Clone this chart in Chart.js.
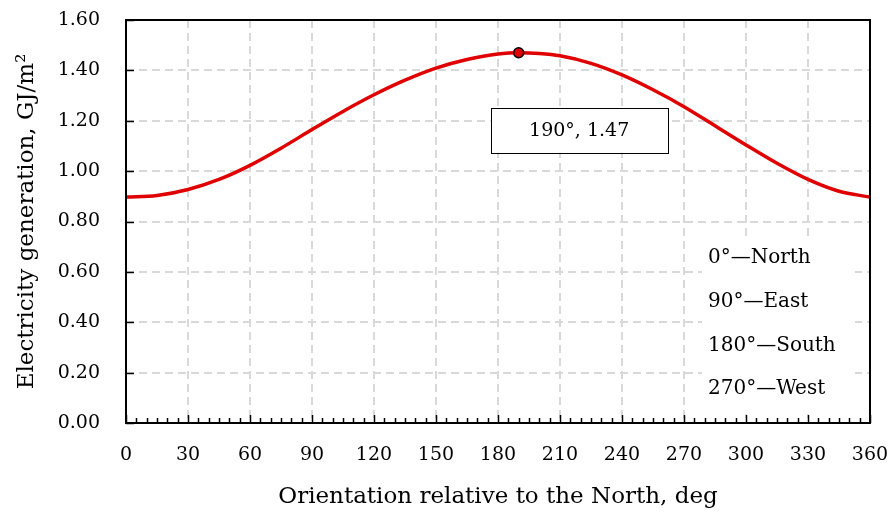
<!DOCTYPE html>
<html>
<head>
<meta charset="utf-8">
<script src="https://cdn.jsdelivr.net/npm/chart.js@4.4.1/dist/chart.umd.min.js"></script>
<style>
    html, body { margin: 0; padding: 0; background: #fff; }
    #wrap { width: 893px; height: 513px; }
</style>
</head>
<body>
<div id="wrap"><canvas id="gen-chart"></canvas></div>
<script>
// Data
const angles = [0, 15, 30, 45, 60, 75, 90, 105, 120, 135, 150, 165, 180, 190, 200, 210, 225, 240, 255, 270, 285, 300, 315, 330, 345, 360];
const generation = [0.897, 0.903, 0.927, 0.967, 1.023, 1.091, 1.165, 1.237, 1.303, 1.361, 1.409, 1.443, 1.465, 1.470, 1.467, 1.458, 1.428, 1.382, 1.323, 1.256, 1.180, 1.104, 1.031, 0.967, 0.920, 0.897];
const peakAngle = [190];
const peakValue = [1.47];
const peakLabel = '190°, 1.47';
const directionNotes = ['0°—North', '90°—East', '180°—South', '270°—West'];

const FONT = 'DejaVu Serif';
const ctx = document.getElementById('gen-chart').getContext('2d');

const linePoints = angles.map((a, i) => ({ x: a, y: generation[i] }));
const peakPoints = peakAngle.map((a, i) => ({ x: a, y: peakValue[i] }));

// Frame, inside ticks, legend box, peak label
const decorPlugin = {
    id: 'decor',
    beforeDatasetsDraw(chart) {
        const { ctx, chartArea: ca } = chart;
        // white panel behind the direction notes
        ctx.save();
        ctx.fillStyle = '#ffffff';
        ctx.fillRect(ca.right - 168, ca.bottom - 185, 153, 176);
        ctx.restore();
    },
    afterDatasetsDraw(chart) {
        const { ctx, chartArea: ca, scales } = chart;
        const xs = scales.x, ys = scales.y;
        ctx.save();

        // minor and major ticks on x axis (pointing in)
        ctx.strokeStyle = '#000';
        ctx.lineWidth = 1.5;
        for (let v = 0; v <= 360; v += 5) {
            const px = Math.round(xs.getPixelForValue(v)) + 0.5;
            const len = v % 30 === 0 ? 8 : 5;
            ctx.beginPath();
            ctx.moveTo(px, ca.bottom);
            ctx.lineTo(px, ca.bottom - len);
            ctx.stroke();
        }
        // y ticks (pointing in)
        for (let v = 0; v <= 1.6001; v += 0.2) {
            const py = Math.round(ys.getPixelForValue(v)) + 0.5;
            ctx.beginPath();
            ctx.moveTo(ca.left, py);
            ctx.lineTo(ca.left + 8, py);
            ctx.stroke();
        }

        // plot frame
        ctx.lineWidth = 2;
        ctx.strokeRect(ca.left, ca.top, ca.right - ca.left, ca.bottom - ca.top);

        // direction notes
        ctx.fillStyle = '#000';
        ctx.font = '20px "' + FONT + '"';
        ctx.textAlign = 'left';
        ctx.textBaseline = 'middle';
        directionNotes.forEach((t, i) => {
            ctx.fillText(t, ca.right - 162, ca.bottom - 165 + i * 43.7);
        });

        // peak label box
        const px = xs.getPixelForValue(peakAngle[0]);
        const py = ys.getPixelForValue(peakValue[0]);
        const bx = px - 28, by = py + 55, bw = 177, bh = 45;
        ctx.fillStyle = '#ffffff';
        ctx.fillRect(bx, by, bw, bh);
        ctx.lineWidth = 1;
        ctx.strokeStyle = '#000';
        ctx.strokeRect(Math.round(bx) + 0.5, Math.round(by) + 0.5, bw, bh);
        ctx.fillStyle = '#000';
        ctx.font = '19px "' + FONT + '"';
        ctx.textAlign = 'center';
        ctx.fillText(peakLabel, bx + bw / 2, by + bh / 2 + 1);

        ctx.restore();
    }
};

const genChart = new Chart(ctx, {
    type: 'line',
    data: {
        datasets: [{
            label: 'Peak',
            data: peakPoints,
            showLine: false,
            pointRadius: 5,
            pointBackgroundColor: '#e00000',
            pointBorderColor: '#000',
            pointBorderWidth: 1.5,
            order: 0
        }, {
            label: 'Electricity generation',
            data: linePoints,
            borderColor: '#e00000',
            borderWidth: 3.5,
            pointRadius: 0,
            fill: false,
            cubicInterpolationMode: 'monotone',
            order: 1
        }]
    },
    options: {
        responsive: true,
        maintainAspectRatio: false,
        animation: false,
        layout: {
            padding: { top: 20, right: 23, left: 0, bottom: 0 }
        },
        plugins: {
            legend: { display: false },
            tooltip: { enabled: false }
        },
        scales: {
            x: {
                type: 'linear',
                min: 0,
                max: 360,
                afterFit: (scale) => {
                    scale.height = 90;
                    scale.paddingLeft = 0;
                    scale.paddingRight = 0;
                },
                ticks: {
                    stepSize: 30,
                    autoSkip: false,
                    maxRotation: 0,
                    padding: 21,
                    color: '#000',
                    font: { family: FONT, size: 19 }
                },
                grid: {
                    drawTicks: false,
                    color: (c) => (c.tick && (c.tick.value === 0 || c.tick.value === 360)) ? 'rgba(0,0,0,0)' : '#d9d9d9',
                    lineWidth: 2
                },
                border: { display: false, dash: [8, 5] },
                title: {
                    display: true,
                    text: 'Orientation relative to the North, deg',
                    color: '#000',
                    font: { family: FONT, size: 23 },
                    padding: { top: 0, bottom: 2 }
                }
            },
            y: {
                min: 0,
                max: 1.6,
                afterFit: (scale) => {
                    scale.width = 126;
                    scale.paddingTop = 0;
                    scale.paddingBottom = 0;
                },
                ticks: {
                    stepSize: 0.2,
                    padding: 26,
                    color: '#000',
                    font: { family: FONT, size: 19 },
                    callback: function(value) {
                        return value.toFixed(2);
                    }
                },
                grid: {
                    drawTicks: false,
                    color: (c) => (c.tick && (c.tick.value === 0 || c.tick.value >= 1.6)) ? 'rgba(0,0,0,0)' : '#d9d9d9',
                    lineWidth: 2
                },
                border: { display: false, dash: [8, 5] },
                title: {
                    display: true,
                    text: 'Electricity generation, GJ/m²',
                    color: '#000',
                    font: { family: FONT, size: 23 },
                    padding: { top: 13, bottom: 0 }
                }
            }
        }
    },
    plugins: [decorPlugin]
});
</script>
</body>
</html>
